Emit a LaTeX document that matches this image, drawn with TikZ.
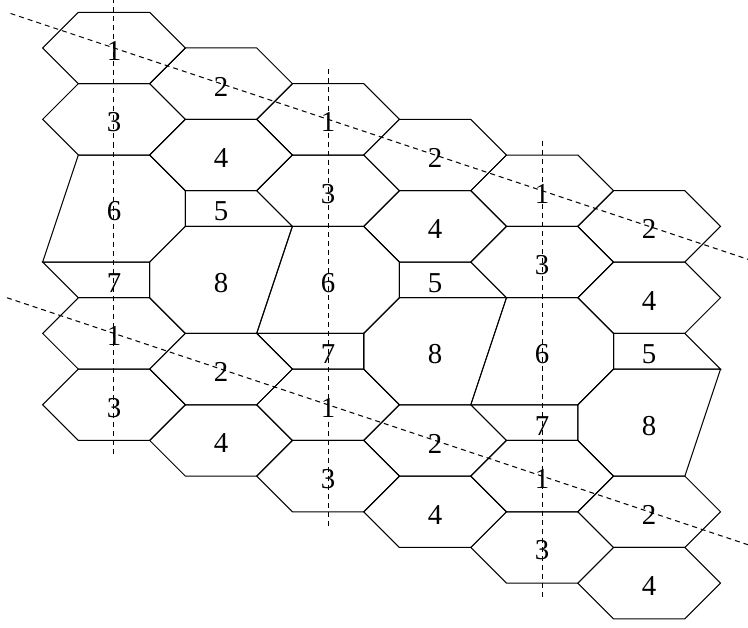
\documentclass[tikz,border=0pt]{standalone}
\usepackage{fontspec}
\setmainfont{Liberation Serif}
\newcommand\hexcell[4]{%
  \begin{scope}[shift={(#1,#2)}]
    \draw[cell] (-1,-1) -- (1,-1) -- (2,0) -- (1,1) -- (-1,1) -- (-2,0) -- cycle;
    \node[lab] (#3) at (0,0) {#4};
  \end{scope}}
\begin{document}
\begin{tikzpicture}[x=0.5cm,y=-0.5cm,
  cell/.style={draw,line width=0.4pt,line join=miter},
  lab/.style={font=\fontsize{11.5}{13}\selectfont,inner sep=0pt,yshift=-1.2pt},
  guide/.style={draw,line width=0.4pt,dash pattern=on 2pt off 1.6pt}]
\useasboundingbox (-3.195,-1.345) rectangle (17.77,16.23);
\clip (-3.195,-1.345) rectangle (17.77,16.23);
\foreach \k in {0,1,2} {
  \begin{scope}[shift={(6*\k,2*\k)}]
    % odd column
    \hexcell{0}{0}{a\k-1}{1}
    \hexcell{0}{2}{a\k-3}{3}
    \draw[cell] (-1,3) -- (1,3) -- (2,4) -- (2,5) -- (1,6) -- (-2,6) -- cycle;
    \node[lab] (a\k-6) at (0,4.5) {6};
    \draw[cell] (-2,6) -- (1,6) -- (1,7) -- (-1,7) -- cycle;
    \node[lab] (a\k-7) at (0,6.5) {7};
    \hexcell{0}{8}{b\k-1}{1}
    \hexcell{0}{10}{b\k-3}{3}
    % even column
    \hexcell{3}{1}{a\k-2}{2}
    \hexcell{3}{3}{a\k-4}{4}
    \draw[cell] (2,4) -- (4,4) -- (5,5) -- (2,5) -- cycle;
    \node[lab] (a\k-5) at (3,4.5) {5};
    \draw[cell] (2,5) -- (5,5) -- (4,8) -- (2,8) -- (1,7) -- (1,6) -- cycle;
    \node[lab] (a\k-8) at (3,6.5) {8};
    \hexcell{3}{9}{b\k-2}{2}
    \hexcell{3}{11}{b\k-4}{4}
    % vertical guide
    \coordinate (vt\k) at (0,-1.4);
    \coordinate (vb\k) at (0,11.5);
    \draw[guide] (vt\k) -- (vb\k);
  \end{scope}
}
\coordinate (d1s) at (-2.9,-0.967);
\coordinate (d1e) at (17.9,5.967);
\coordinate (d2s) at (-3,7);
\coordinate (d2e) at (17.9,13.967);
\draw[guide] (d1s) -- (d1e);
\draw[guide] (d2s) -- (d2e);
\end{tikzpicture}
\end{document}
